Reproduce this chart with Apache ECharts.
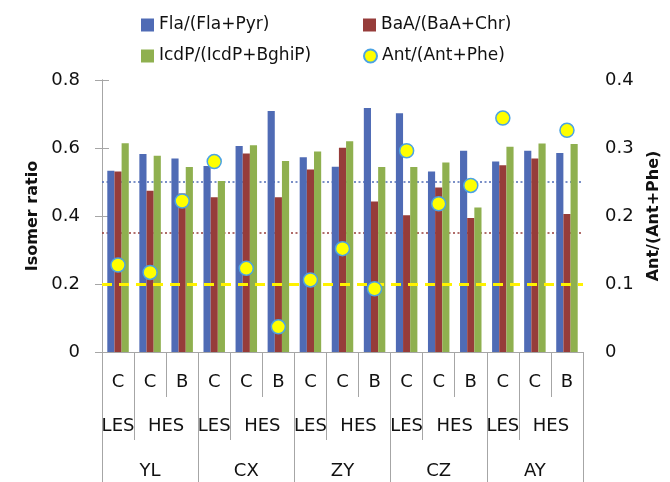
<!DOCTYPE html>
<html>
<head>
<meta charset="utf-8">
<script src="https://cdn.jsdelivr.net/npm/echarts@6/dist/echarts.min.js"></script>
<style>html,body{margin:0;padding:0;background:#fff;}#c{width:670px;height:482px;}</style>
</head>
<body>
<div id="c"></div>
<script>
// ---- data ----
var typeLabels = ['C','C','B','C','C','B','C','C','B','C','C','B','C','C','B'];
var levelLabels = ['LES','HES'];
var sites = ['YL','CX','ZY','CZ','AY'];
var seriesNames = ['Fla/(Fla+Pyr)','BaA/(BaA+Chr)','IcdP/(IcdP+BghiP)','Ant/(Ant+Phe)'];
var fla  = [0.533,0.582,0.569,0.547,0.606,0.709,0.573,0.545,0.718,0.702,0.531,0.592,0.560,0.592,0.585];
var baa  = [0.531,0.474,0.466,0.455,0.584,0.455,0.537,0.601,0.443,0.402,0.484,0.394,0.549,0.569,0.406];
var icdp = [0.614,0.577,0.544,0.503,0.608,0.562,0.590,0.620,0.544,0.544,0.557,0.425,0.604,0.613,0.612];
var ant  = [0.128,0.117,0.222,0.280,0.123,0.037,0.106,0.152,0.093,0.296,0.218,0.245,0.344,null,0.326];
var refFla = 0.5, refBaa = 0.35, refAnt = 0.2; // reference lines (left axis units)
var leftTicks = {min:0, max:0.8, interval:0.2};
var rightTicks = {min:0, max:0.4, interval:0.1};

// ---- derived axis helpers ----
var n = typeLabels.length;
var lvl2LabelPos = [], lvl2Text = [], lvl2Ticks = [0];
var sitePos = [], siteTicks = [0];
for (var s = 0; s < sites.length; s++) {
  var b = s * 3;
  lvl2LabelPos.push(b + 0.5); lvl2Text.push(levelLabels[0]);
  lvl2LabelPos.push(b + 2); lvl2Text.push(levelLabels[1]);
  lvl2Ticks.push(b + 1, b + 3);
  sitePos.push(b + 1.5);
  siteTicks.push(b + 3);
}
var cats = typeLabels.map(function(t, i){ return String(i); });

var FONT = 'DejaVu Sans';
var gray = '#A6A6A6';
var blue = '#4F6BB5', red = '#963C3A', green = '#8FB04F';

var chart = echarts.init(document.getElementById('c'));
function leg(name, left, top, icon) {
  return {data:[{name:name, icon:icon}], left:left, top:top, padding:0, itemWidth:13, itemHeight:13, itemGap:5,
    textStyle:{fontFamily:FONT, fontSize:17, color:'#111', lineHeight:20}};
}
chart.setOption({
  animation:false,
  textStyle:{fontFamily:FONT},
  legend:[
    leg(seriesNames[0], 141, 15, 'rect'),
    leg(seriesNames[1], 363, 15, 'rect'),
    leg(seriesNames[2], 141, 46, 'rect'),
    leg(seriesNames[3], 363, 46, 'circle')
  ],
  grid:{left:102, right:85, top:80, bottom:130, containLabel:false},
  xAxis:[
    {type:'category', data:cats, gridIndex:0, position:'bottom',
     axisLine:{show:true, lineStyle:{color:gray, width:1}},
     axisTick:{show:true, interval:0, length:45, lineStyle:{color:gray}},
     axisLabel:{interval:0, margin:21, fontFamily:FONT, fontSize:18, color:'#111',
       formatter:function(v){ return typeLabels[+v]; }},
     splitLine:{show:false}},
    {type:'value', gridIndex:0, position:'bottom', min:0, max:n,
     axisLine:{show:false}, splitLine:{show:false},
     axisTick:{show:true, customValues:lvl2Ticks, length:88, lineStyle:{color:gray}},
     axisLabel:{show:true, customValues:lvl2LabelPos, margin:65, fontFamily:FONT, fontSize:18, color:'#111',
       formatter:function(v){ var k = lvl2LabelPos.indexOf(v); return k >= 0 ? lvl2Text[k] : ''; }}},
    {type:'value', gridIndex:0, position:'bottom', min:0, max:n,
     axisLine:{show:false}, splitLine:{show:false},
     axisTick:{show:true, customValues:siteTicks, length:135, lineStyle:{color:gray}},
     axisLabel:{show:true, customValues:sitePos, margin:110, fontFamily:FONT, fontSize:18, color:'#111',
       formatter:function(v){ var k = sitePos.indexOf(v); return k >= 0 ? sites[k] : ''; }}}
  ],
  yAxis:[
    {type:'value', min:leftTicks.min, max:leftTicks.max, interval:leftTicks.interval, position:'left',
     name:'Isomer ratio', nameLocation:'middle', nameGap:61, nameRotate:90,
     nameTextStyle:{fontFamily:FONT, fontSize:16, fontWeight:'bold', color:'#111'},
     axisLine:{show:true, lineStyle:{color:gray}}, axisTick:{show:true, length:7, lineStyle:{color:gray}},
     axisLabel:{margin:22, fontFamily:FONT, fontSize:18, color:'#111'}, splitLine:{show:false}},
    {type:'value', min:rightTicks.min, max:rightTicks.max, interval:rightTicks.interval, position:'right',
     name:'Ant/(Ant+Phe)', nameLocation:'middle', nameGap:63, nameRotate:90,
     nameTextStyle:{fontFamily:FONT, fontSize:16, fontWeight:'bold', color:'#111'},
     axisLine:{show:true, lineStyle:{color:gray}}, axisTick:{show:true, length:7, lineStyle:{color:gray}},
     axisLabel:{margin:22, fontFamily:FONT, fontSize:18, color:'#111'}, splitLine:{show:false}}
  ],
  series:[
    {name:seriesNames[0], type:'bar', data:fla, itemStyle:{color:blue}, barGap:'0%', barCategoryGap:'33%',
     markLine:{silent:true, symbol:['none','none'], z:1, label:{show:false},
       data:[{yAxis:refFla, lineStyle:{color:blue, width:1.5, type:[2,2.5]}},
             {yAxis:refBaa, lineStyle:{color:red, width:1.5, type:[2,2.5]}}]}},
    {name:seriesNames[1], type:'bar', data:baa, itemStyle:{color:red}, barGap:'0%', barCategoryGap:'33%'},
    {name:seriesNames[2], type:'bar', data:icdp, itemStyle:{color:green}, barGap:'0%', barCategoryGap:'33%',
     markLine:{silent:true, symbol:['none','none'], z:5, label:{show:false},
       data:[{yAxis:refAnt, lineStyle:{color:'#FFF200', width:3, type:[10,7]}}]}},
    {name:seriesNames[3], type:'scatter', yAxisIndex:1, data:ant, symbol:'circle', symbolSize:14, z:10,
     itemStyle:{color:'#FFFF00', borderColor:'#4BA3E3', borderWidth:1.5, opacity:1}}
  ]
});
</script>
</body>
</html>
